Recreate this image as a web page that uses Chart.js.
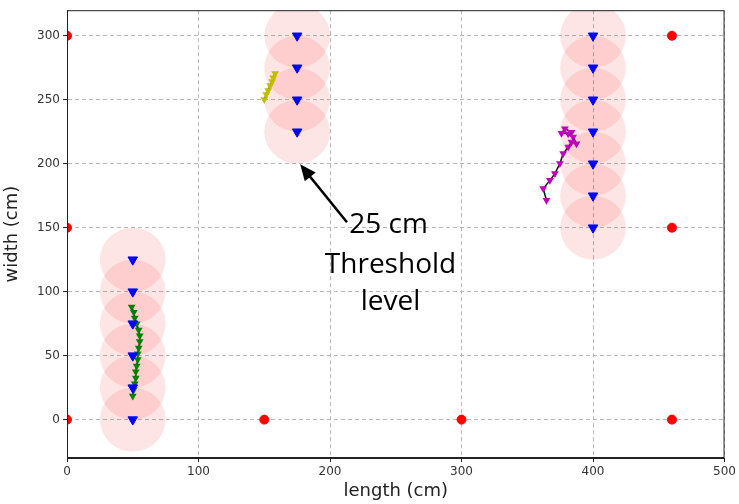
<!DOCTYPE html>
<html>
<head>
<meta charset="utf-8">
<script src="https://cdn.jsdelivr.net/npm/chart.js@4.4.0/dist/chart.umd.min.js"></script>
<style>
  html, body { margin: 0; padding: 0; background: #fff; }
  #wrap { width: 739px; height: 504px; }
</style>
</head>
<body>
<div id="wrap"><canvas id="plot"></canvas></div>
<script>
// Axis ticks
const xTicks = [0, 100, 200, 300, 400, 500];
const yTicks = [0, 50, 100, 150, 200, 250, 300];

// Anchors (red dots)
const anchorX = [0, 0, 0, 150, 300, 460, 460, 460];
const anchorY = [300, 150, 0, 0, 0, 0, 150, 300];

// Target positions (blue triangles), each with a threshold circle
const targetX = [50, 50, 50, 50, 50, 50, 175, 175, 175, 175, 400, 400, 400, 400, 400, 400, 400];
const targetY = [0, 25, 50, 75, 100, 125, 225, 250, 275, 300, 150, 175, 200, 225, 250, 275, 300];
const thresholdRadius = 25;

// Estimated tracks
const greenX = [49.2, 50.8, 51.5, 53, 54.5, 55.3, 55.3, 54.5, 53.8, 53.8, 53, 52.3, 52.3, 51.5, 50.8, 50];
const greenY = [88, 84, 79.5, 75, 70, 65.5, 61, 56, 51.5, 47, 42, 37.5, 32.5, 28, 23.5, 18.5];
const yellowX = [158.3, 156.8, 156, 154.5, 153, 151.5, 150];
const yellowY = [270.5, 267.3, 264.2, 261.1, 257.2, 254.1, 250.2];
const magentaX = [364.6, 362.1, 367.2, 371, 374.8, 377.3, 381.1, 383.6, 387.4, 384.8, 381.1, 376, 378.6, 383.6];
const magentaY = [171.5, 180.6, 187, 192.3, 200.1, 207.9, 213, 216.9, 215.6, 220.8, 223.5, 223.9, 227.4, 224.7];

function toPoints(xs, ys) {
  return xs.map((x, i) => ({ x: x, y: ys[i] }));
}

// Threshold circles drawn in data units, behind the markers
const circlePlugin = {
  id: "circles",
  beforeDatasetsDraw(chart) {
    const { ctx, chartArea, scales } = chart;
    ctx.save();
    ctx.beginPath();
    ctx.rect(chartArea.left, chartArea.top, chartArea.right - chartArea.left, chartArea.bottom - chartArea.top);
    ctx.clip();
    ctx.fillStyle = "rgba(250, 20, 20, 0.11)";
    targetX.forEach((x, i) => {
      const cx = scales.x.getPixelForValue(x);
      const cy = scales.y.getPixelForValue(targetY[i]);
      const rx = Math.abs(scales.x.getPixelForValue(x + thresholdRadius) - cx);
      const ry = Math.abs(scales.y.getPixelForValue(targetY[i] + thresholdRadius) - cy);
      ctx.beginPath();
      ctx.ellipse(cx, cy, rx, ry, 0, 0, Math.PI * 2);
      ctx.fill();
    });
    ctx.restore();
  },
};

// Frame around the plot and the annotation
const annotationPlugin = {
  id: "annotation",
  afterDraw(chart) {
    const { ctx, chartArea, scales } = chart;
    ctx.save();
    ctx.strokeStyle = "#222";
    ctx.lineWidth = 1;
    ctx.strokeRect(chartArea.left + 0.5, chartArea.top + 0.5, chartArea.right - chartArea.left - 1, chartArea.bottom - chartArea.top - 1);

    // arrow
    const x0 = scales.x.getPixelForValue(212.9), y0 = scales.y.getPixelForValue(154.3);
    const x1 = scales.x.getPixelForValue(177.3), y1 = scales.y.getPixelForValue(199.5);
    const ang = Math.atan2(y1 - y0, x1 - x0);
    ctx.strokeStyle = "#000";
    ctx.fillStyle = "#000";
    ctx.lineWidth = 2.5;
    ctx.beginPath();
    ctx.moveTo(x0, y0);
    ctx.lineTo(x1 - 8 * Math.cos(ang), y1 - 8 * Math.sin(ang));
    ctx.stroke();
    ctx.beginPath();
    ctx.moveTo(x1, y1);
    ctx.lineTo(x1 - 16 * Math.cos(ang) + 7 * Math.sin(ang), y1 - 16 * Math.sin(ang) - 7 * Math.cos(ang));
    ctx.lineTo(x1 - 16 * Math.cos(ang) - 7 * Math.sin(ang), y1 - 16 * Math.sin(ang) + 7 * Math.cos(ang));
    ctx.closePath();
    ctx.fill();

    // text
    ctx.font = "28px 'Open Sans', sans-serif";
    ctx.textAlign = "center";
    ctx.textBaseline = "middle";
    ctx.fillText("25 cm", scales.x.getPixelForValue(244.5), scales.y.getPixelForValue(152));
    ctx.fillText("Threshold", scales.x.getPixelForValue(246), scales.y.getPixelForValue(121));
    ctx.fillText("level", scales.x.getPixelForValue(246), scales.y.getPixelForValue(92));
    ctx.restore();
  },
};

const trackStyle = (color) => ({
  showLine: true,
  borderColor: "#111",
  borderWidth: 1.5,
  pointStyle: "triangle",
  rotation: 180,
  pointRadius: 4.5,
  pointBackgroundColor: color,
  pointBorderColor: color,
  pointBorderWidth: 0,
});

const axisGrid = {
  color: "#b8b8b8",
  tickColor: "#222",
  tickBorderDash: [],
  tickLength: 4,
};

const ctx = document.getElementById("plot").getContext("2d");

new Chart(ctx, {
  type: "scatter",
  data: {
    datasets: [
      {
        label: "anchors",
        data: toPoints(anchorX, anchorY),
        pointStyle: "circle",
        pointRadius: 4.5,
        pointBackgroundColor: "#ff0000",
        pointBorderColor: "#ff0000",
        clip: 0,
      },
      {
        label: "targets",
        data: toPoints(targetX, targetY),
        pointStyle: "triangle",
        rotation: 180,
        pointRadius: 5.5,
        pointBackgroundColor: "#0000ff",
        pointBorderColor: "#0000ff",
      },
      Object.assign({ label: "green", data: toPoints(greenX, greenY) }, trackStyle("#008000")),
      Object.assign({ label: "yellow", data: toPoints(yellowX, yellowY) }, trackStyle("#bfbf00")),
      Object.assign({ label: "magenta", data: toPoints(magentaX, magentaY) }, trackStyle("#bf00bf")),
    ],
  },
  options: {
    responsive: true,
    maintainAspectRatio: false,
    animation: false,
    layout: { padding: { top: 9, right: 12, left: 0, bottom: 2 } },
    plugins: {
      legend: { display: false },
      tooltip: { enabled: false },
    },
    scales: {
      x: {
        type: "linear",
        min: 0,
        max: 500,
        afterBuildTicks: (axis) => { axis.ticks = xTicks.map((v) => ({ value: v })); },
        afterFit: (axis) => { axis.height = 44; },
        ticks: { color: "#333", font: { family: "DejaVu Sans", size: 12 }, padding: 3 },
        grid: axisGrid,
        border: { display: true, color: "#222", dash: [4, 3] },
        title: { display: true, text: "length (cm)", color: "#222", font: { family: "DejaVu Sans", size: 18 }, padding: 0 },
      },
      y: {
        type: "linear",
        min: -30,
        max: 320,
        afterBuildTicks: (axis) => { axis.ticks = yTicks.map((v) => ({ value: v })); },
        afterFit: (axis) => { axis.width = 67; },
        ticks: { color: "#333", font: { family: "DejaVu Sans", size: 12 }, padding: 3 },
        grid: axisGrid,
        border: { display: true, color: "#222", dash: [4, 3] },
        title: { display: true, text: "width (cm)", color: "#222", font: { family: "DejaVu Sans", size: 18 }, padding: 2 },
      },
    },
  },
  plugins: [circlePlugin, annotationPlugin],
});
</script>
</body>
</html>
